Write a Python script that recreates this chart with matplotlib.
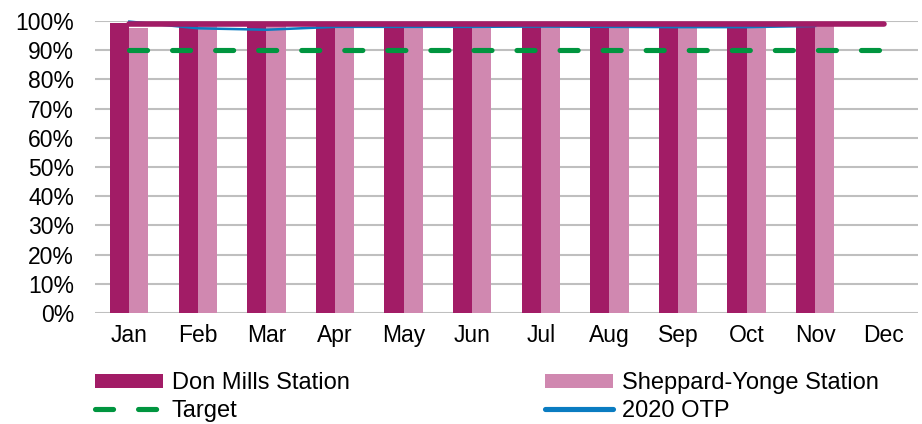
import numpy as np
import matplotlib
matplotlib.use("Agg")
import matplotlib.pyplot as plt
from matplotlib.lines import Line2D
from matplotlib.patches import Patch

plt.rcParams['font.family'] = ['Liberation Sans', 'DejaVu Sans']
plt.rcParams['lines.scale_dashes'] = False

months = ['Jan', 'Feb', 'Mar', 'Apr', 'May', 'Jun', 'Jul', 'Aug', 'Sep', 'Oct', 'Nov', 'Dec']
don_mills = [99.2, 99.5, 99.5, 99.6, 99.6, 99.6, 99.6, 99.6, 99.6, 99.6, 99.6, np.nan]
sheppard_yonge = [97.6, 98.3, 98.3, 98.3, 98.3, 98.3, 98.3, 98.3, 98.3, 98.3, 98.3, np.nan]
target = [90] * 12
otp_2020 = [99.8, 97.5, 97.0, 98.0, 98.0, 98.0, 98.1, 98.0, 97.9, 97.9, 98.3, np.nan]
otp_overall = [98.9, 98.9, 98.9, 98.9, 98.9, 98.9, 98.9, 98.9, 98.9, 98.9, 98.9, 98.9]

c_dm = '#A21C66'
c_sy = '#D088B0'
c_target = '#00953F'
c_otp = '#0A7CC1'
c_grid = '#BFBFBF'

fig = plt.figure(figsize=(9.22, 4.24), dpi=100)
ax = fig.add_axes([95/922, 1 - 313/424, (918 - 95)/922, (313 - 21)/424])

x = np.arange(len(months))
w = 0.28
ax.bar(x - w/2, np.array(don_mills)/100, width=w, color=c_dm, zorder=2)
ax.bar(x + w/2, np.array(sheppard_yonge)/100, width=w, color=c_sy, zorder=2)

ax.plot(x, np.array(target)/100, color=c_target, lw=3.7, dashes=(13, 18),
        dash_capstyle='round', zorder=4, clip_on=False)
ax.plot(x, np.array(otp_2020)/100, color=c_otp, lw=1.8, zorder=3, clip_on=False)
ax.plot(x, np.array(otp_overall)/100, color=c_dm, lw=4.0, zorder=3.5,
        solid_capstyle='round', clip_on=False)

ax.set_xlim(-0.5, 11.5)
ax.set_ylim(0, 1.0)
ax.set_yticks(np.arange(0, 1.01, 0.1))
ax.set_yticklabels([f'{int(round(v*100))}%' for v in np.arange(0, 1.01, 0.1)])
ax.set_xticks(x)
ax.set_xticklabels(months)
ax.tick_params(axis='both', length=0, labelsize=16.5, colors='black')
ax.tick_params(axis='y', pad=15)
ax.tick_params(axis='x', pad=8)
ax.yaxis.grid(True, color=c_grid, lw=1.5, zorder=0)
ax.set_axisbelow(True)
for s in ax.spines.values():
    s.set_visible(False)

handles = [
    Patch(facecolor=c_dm, edgecolor='none'),
    Line2D([], [], color=c_target, lw=3.7, dashes=(13, 18), dash_capstyle='round'),
    Patch(facecolor=c_sy, edgecolor='none'),
    Line2D([], [], color=c_otp, lw=3.7, solid_capstyle='round'),
]
labels = ['Don Mills Station', 'Target', 'Sheppard-Yonge Station', '2020 OTP']
fig.legend(handles, labels, ncol=2, loc='upper left',
           bbox_to_anchor=(95/922, 1 - 372/424), frameon=False, fontsize=17,
           handlelength=2.88, handleheight=0.55, handletextpad=0.38,
           columnspacing=8.26, labelspacing=0.24, borderpad=0, borderaxespad=0)

fig.savefig('out.png', dpi=100)
